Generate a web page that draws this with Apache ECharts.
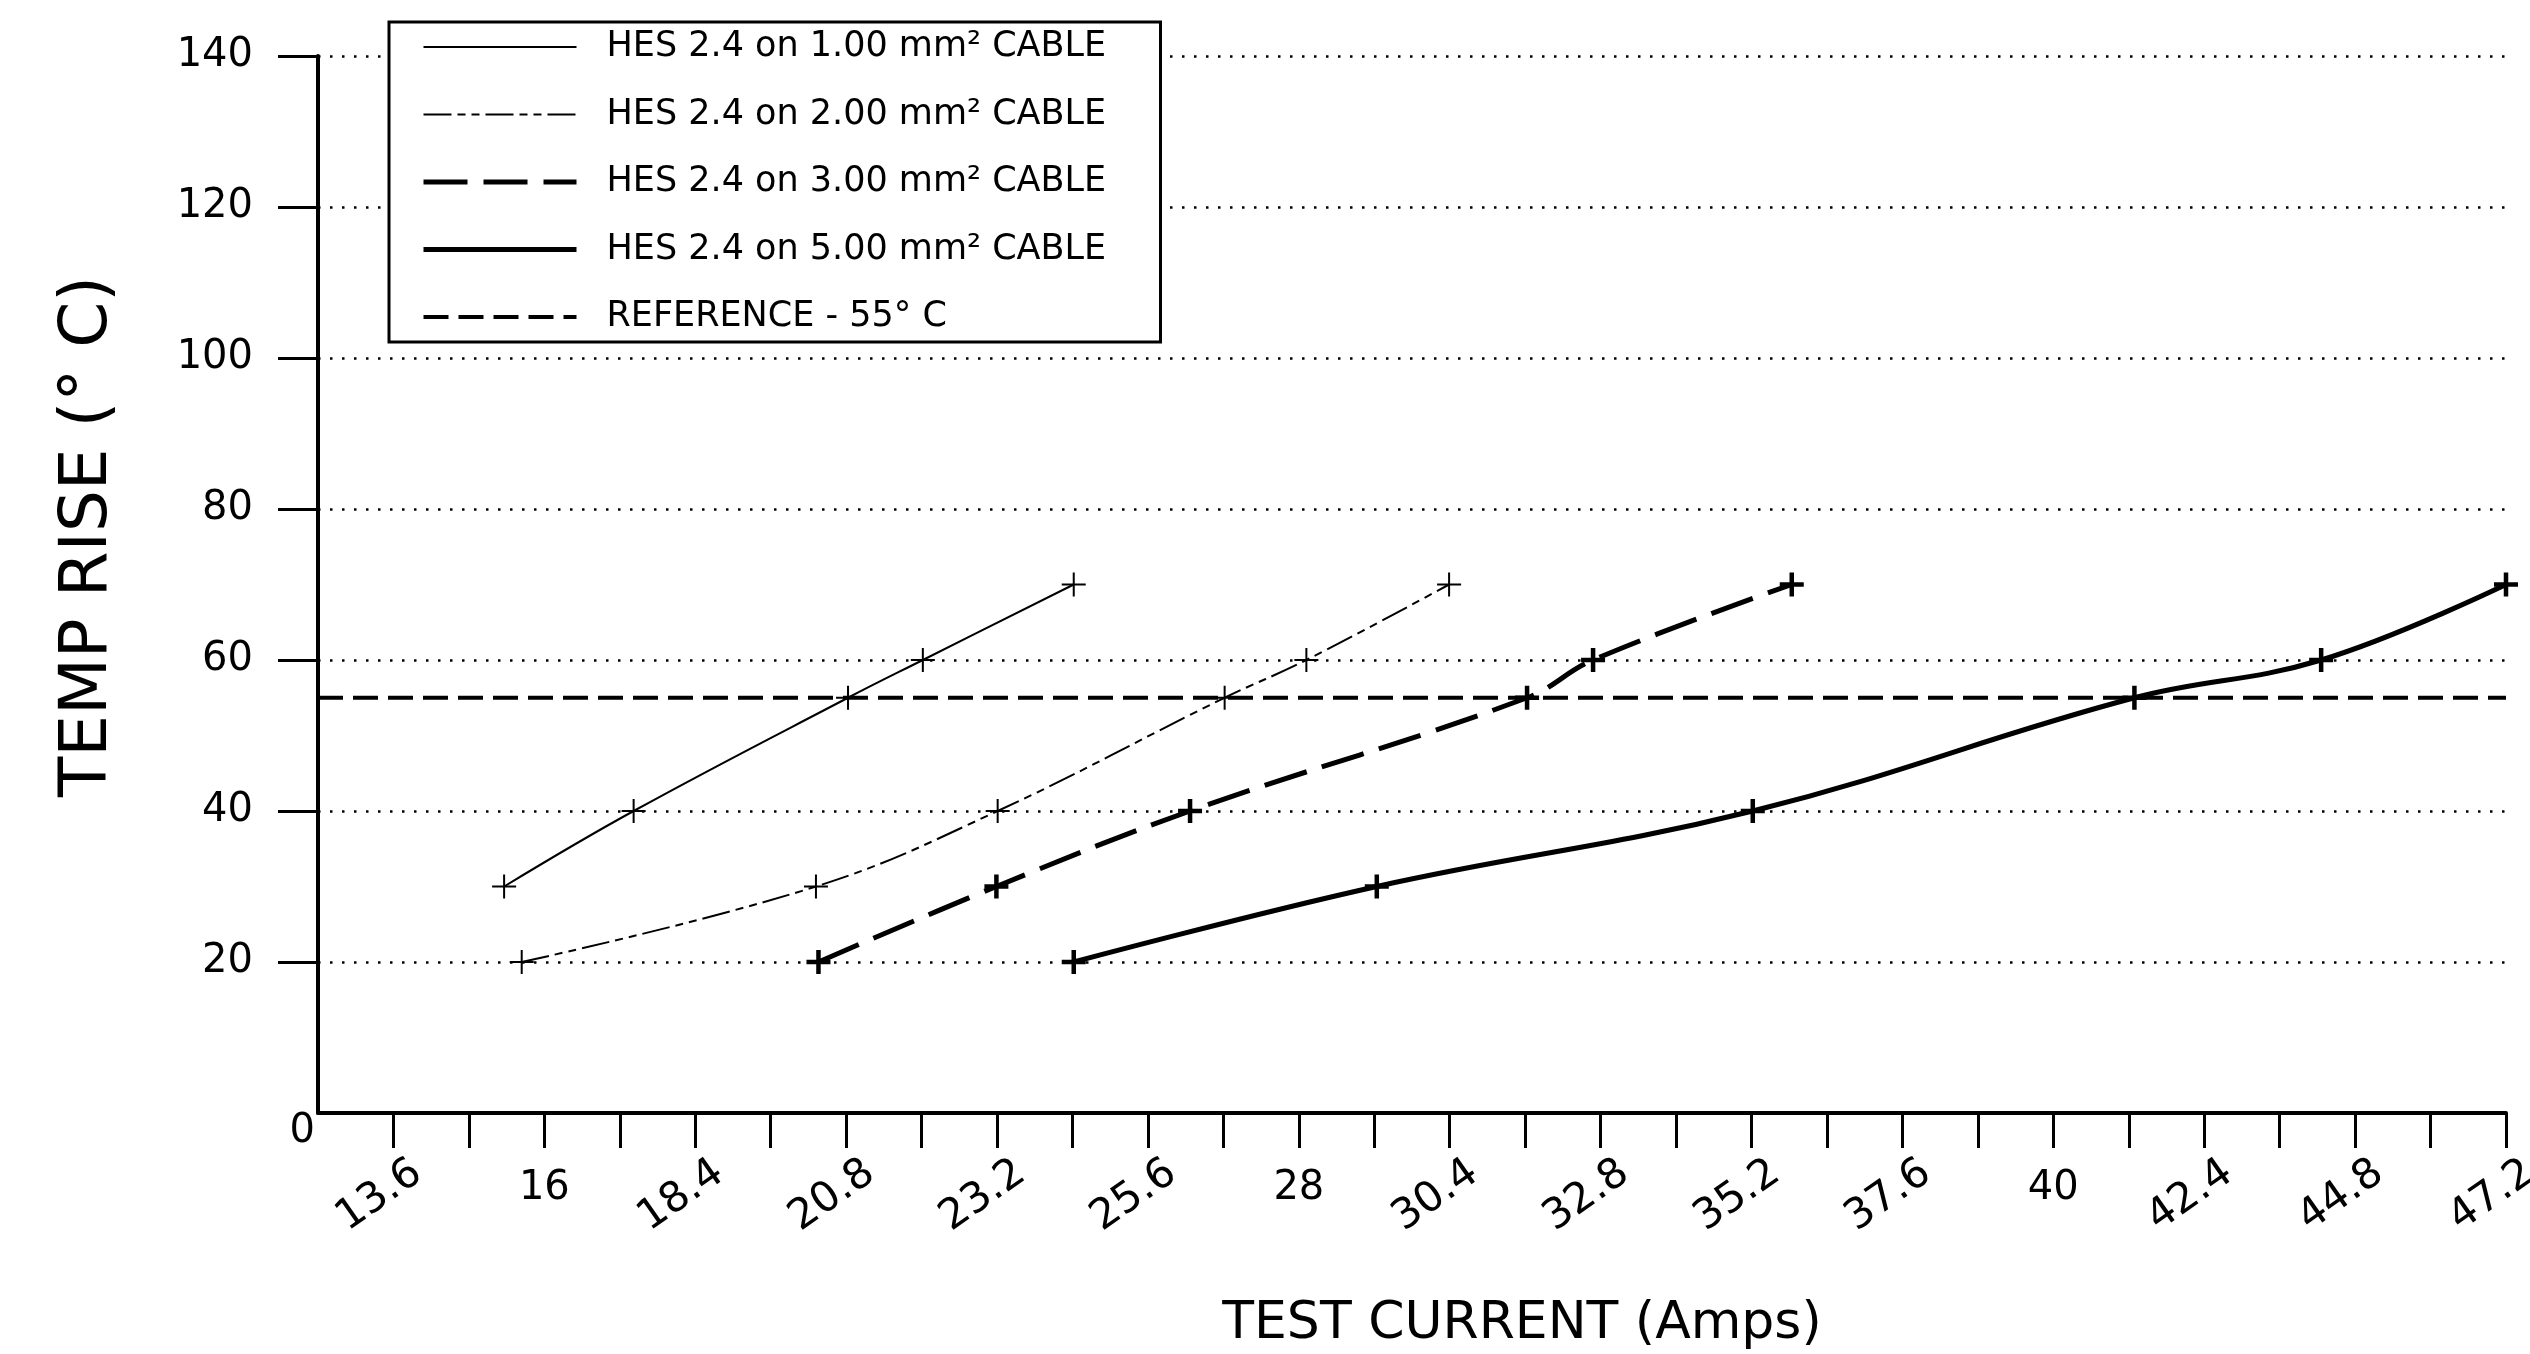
<!DOCTYPE html>
<html><head><meta charset="utf-8">
<script src="https://cdn.jsdelivr.net/npm/echarts@6/dist/echarts.min.js"></script>
<style>html,body{margin:0;padding:0;background:#fff}#c{width:2530px;height:1354px}</style>
</head><body><div id="c"></div>
<script>
// ---- data ----
const seriesNames = ['HES 2.4 on 1.00 mm² CABLE', 'HES 2.4 on 2.00 mm² CABLE', 'HES 2.4 on 3.00 mm² CABLE', 'HES 2.4 on 5.00 mm² CABLE'];
const referenceName = 'REFERENCE - 55° C';
const cable1Current = [15.36, 17.42, 20.83, 22.02, 24.42];
const cable1Temp    = [30, 40, 55, 60, 70];
const cable2Current = [15.64, 20.32, 23.21, 26.82, 28.12, 30.39];
const cable2Temp    = [20, 30, 40, 55, 60, 70];
const cable3Current = [20.36, 23.19, 26.27, 31.63, 32.68, 35.84];
const cable3Temp    = [20, 30, 40, 55, 60, 70];
const cable5Current = [24.42, 29.24, 35.22, 41.29, 44.26, 47.2];
const cable5Temp    = [20, 30, 40, 55, 60, 70];
const referenceTemp = 55;
const xMin = 12.4, xMax = 47.2;
const xTickValues = [13.6, 14.8, 16, 17.2, 18.4, 19.6, 20.8, 22, 23.2, 24.4, 25.6, 26.8, 28, 29.2, 30.4, 31.6, 32.8, 34, 35.2, 36.4, 37.6, 38.8, 40, 41.2, 42.4, 43.6, 44.8, 46, 47.2];
const xDecimalLabels = [13.6, 18.4, 20.8, 23.2, 25.6, 30.4, 32.8, 35.2, 37.6, 42.4, 44.8, 47.2];
const xIntegerLabels = [16, 28, 40];
const yMin = 0, yMax = 140;
const yTickValues = [20, 40, 60, 80, 100, 120, 140];
const yLabelValues = [0, 20, 40, 60, 80, 100, 120, 140];
const xTitle = 'TEST CURRENT (Amps)';
const yTitle = 'TEMP RISE (° C)';

// ---- chart ----
const FONT = 'DejaVu Sans';
const zip = (xs, ys) => xs.map((x, i) => [x, ys[i]]);
const plus = 'path://M5,0L5,10M0,5L10,5';

function curve(name, xs, ys, width, dash, markW) {
  return {
    name, type: 'line', xAxisIndex: 0, data: zip(xs, ys), smooth: 0.4,
    symbol: plus, symbolSize: 24,
    itemStyle: { color: '#000', borderColor: '#000', borderWidth: markW },
    lineStyle: { color: '#000', width, type: dash },
    emphasis: { disabled: true }
  };
}

const chart = echarts.init(document.getElementById('c'), null, { renderer: 'canvas' });
chart.setOption({
  animation: false,
  backgroundColor: '#fff',
  textStyle: { fontFamily: FONT, color: '#000' },
  grid: { left: 318, right: 24, top: 56, bottom: 241, containLabel: false, outerBoundsMode: 'none' },
  legend: {
    orient: 'vertical', left: 389, top: 22,
    padding: [7, 24, 7, 32], itemGap: 31.5, itemWidth: 153, itemHeight: 36,
    borderColor: '#000', borderWidth: 3, backgroundColor: '#fff', borderRadius: 0,
    selectedMode: false,
    itemStyle: { opacity: 0 },
    lineStyle: { width: 'inherit' },
    textStyle: { fontSize: 35, color: '#000', fontFamily: FONT, lineHeight: 36, width: 530, padding: [0, 0, 0, 25] },
    data: seriesNames.concat([referenceName])
  },
  xAxis: [{
    type: 'value', min: xMin, max: xMax, position: 'bottom',
    axisLine: { show: true, lineStyle: { color: '#000', width: 4 } },
    axisTick: { show: true, length: 35, customValues: xTickValues, lineStyle: { color: '#000', width: 3 } },
    axisLabel: { customValues: xDecimalLabels, rotate: 35, margin: 73, align: 'center', verticalAlign: 'middle',
                 padding: [0, 34, 0, 0], fontSize: 42, color: '#000', fontFamily: FONT },
    splitLine: { show: false },
    name: xTitle, nameLocation: 'middle', nameGap: 185,
    nameTextStyle: { fontSize: 52, color: '#000', fontFamily: FONT, padding: [0, 0, 0, 220] }
  }, {
    type: 'value', min: xMin, max: xMax, position: 'bottom',
    axisLine: { show: false }, axisTick: { show: false },
    axisLabel: { customValues: xIntegerLabels, rotate: 0, margin: 56, fontSize: 40, color: '#000', fontFamily: FONT },
    splitLine: { show: false }
  }],
  yAxis: {
    type: 'value', min: yMin, max: yMax, interval: 20,
    axisLine: { show: true, lineStyle: { color: '#000', width: 4 } },
    axisTick: { show: true, length: 40, customValues: yTickValues, lineStyle: { color: '#000', width: 3 } },
    axisLabel: {
      customValues: yLabelValues, margin: 3, fontSize: 40, color: '#000', fontFamily: FONT,
      formatter: v => v === 0 ? '{z|0}' : '{n|' + v + '}',
      rich: {
        n: { fontSize: 40, fontFamily: FONT, color: '#000', padding: [0, 62, 0, 0] },
        z: { fontSize: 40, fontFamily: FONT, color: '#000', padding: [38, 0, 0, 0] }
      }
    },
    splitLine: { show: true, lineStyle: { color: '#000', width: 2.5, type: [2.5, 9.5] } },
    name: yTitle, nameLocation: 'middle', nameGap: 196,
    nameTextStyle: { fontSize: 66, color: '#000', fontFamily: FONT, padding: [0, 0, 0, 96] }
  },
  series: [
    curve(seriesNames[0], cable1Current, cable1Temp, 2, 'solid', 2),
    curve(seriesNames[1], cable2Current, cable2Temp, 2, [28, 6, 8, 6, 8, 6], 2),
    curve(seriesNames[2], cable3Current, cable3Temp, 5, [44, 16], 4.5),
    curve(seriesNames[3], cable5Current, cable5Temp, 5, 'solid', 4.5),
    {
      name: referenceName, type: 'line', xAxisIndex: 0,
      data: [[xMin, referenceTemp], [xMax, referenceTemp]],
      symbol: 'none', lineStyle: { color: '#000', width: 4, type: [25, 10] },
      itemStyle: { color: '#000' }, emphasis: { disabled: true }
    }
  ]
});
</script></body></html>
